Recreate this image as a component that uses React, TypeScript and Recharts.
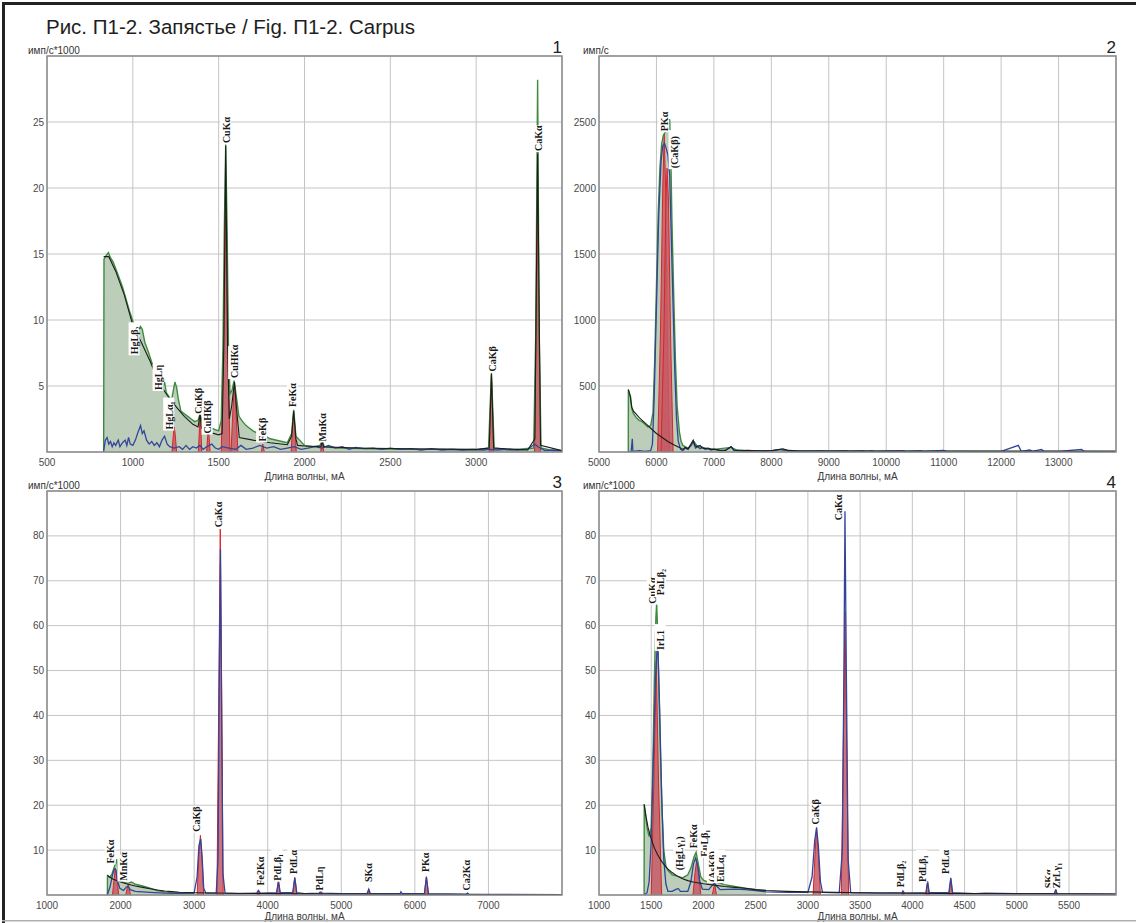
import React from 'react';
import { ComposedChart, Area, Line, XAxis, YAxis, CartesianGrid, ReferenceDot } from 'recharts';

type Pt = [number, number];
type Lbl = [string, number, number];

// ---------- Panel 1 ----------
const p1XTicks = [500, 1000, 1500, 2000, 2500, 3000];
const p1YTicks = [5, 10, 15, 20, 25];
const p1Green: Pt[] = [[830,0],[832,14.6],[845,14.9],[858,15.1],[870,14.7],[885,14.4],[900,13.9],[920,13.2],[940,12.5],[960,11.6],[980,10.7],[1000,9.9],[1015,9.3],[1030,9.0],[1045,9.5],[1055,9.3],[1070,8.3],[1090,7.6],[1110,6.8],[1130,6.0],[1150,5.3],[1165,4.7],[1175,4.9],[1185,5.3],[1195,4.5],[1210,4.2],[1225,3.9],[1235,4.6],[1245,5.3],[1255,4.9],[1265,4.0],[1280,3.1],[1300,2.9],[1320,2.7],[1340,2.5],[1360,2.3],[1380,2.4],[1392,2.9],[1405,2.2],[1420,2.0],[1440,2.1],[1460,1.8],[1480,1.7],[1500,1.6],[1515,2.4],[1525,8.0],[1533,17.0],[1541,23.3],[1549,17.0],[1557,8.0],[1566,4.4],[1578,4.7],[1590,5.4],[1603,4.2],[1618,2.7],[1640,2.3],[1660,2.0],[1680,1.8],[1700,1.6],[1730,1.4],[1760,1.3],[1800,1.0],[1850,0.85],[1900,0.7],[1925,1.4],[1937,3.2],[1950,1.2],[2000,0.5],[2050,0.4],[2090,0.5],[2103,0.9],[2115,0.4],[2200,0.3],[2400,0.25],[2600,0.2],[2800,0.2],[3000,0.15],[3072,0.3],[3089,6.0],[3105,0.3],[3200,0.15],[3335,0.3],[3347,9.0],[3358,28.2],[3367,9.0],[3378,0.3],[3450,0.1],[3500,0.1]];
const p1Black: Pt[] = [[830,14.8],[860,14.8],[900,13.7],[950,11.9],[1000,9.6],[1050,8.3],[1100,6.9],[1150,5.3],[1200,4.3],[1230,3.8],[1260,3.3],[1300,2.7],[1350,2.1],[1380,1.9],[1392,2.9],[1400,1.8],[1433,1.5],[1440,1.9],[1447,1.5],[1500,1.3],[1520,1.4],[1530,8.0],[1541,23.2],[1552,8.0],[1562,2.5],[1576,3.5],[1592,5.3],[1606,3.0],[1620,1.1],[1700,0.9],[1800,0.7],[1900,0.55],[1925,1.2],[1937,3.1],[1950,1.0],[1960,0.5],[2000,0.45],[2095,0.4],[2103,0.8],[2111,0.4],[2300,0.3],[2600,0.25],[3000,0.2],[3076,0.3],[3089,5.9],[3102,0.3],[3300,0.15],[3342,1.0],[3350,12.0],[3358,22.6],[3366,12.0],[3375,0.5],[3500,0.1]];
const p1Blue: Pt[] = [[830,0.1],[840,0.9],[850,1.1],[860,0.6],[870,0.8],[880,0.4],[890,0.7],[900,0.5],[915,0.9],[925,0.4],[940,0.7],[955,0.9],[965,0.5],[975,1.1],[985,0.6],[1000,0.5],[1015,0.9],[1030,1.5],[1045,2.0],[1055,1.4],[1065,1.6],[1080,0.9],[1095,0.6],[1110,0.8],[1125,0.5],[1140,0.7],[1155,0.4],[1170,0.9],[1185,1.2],[1200,0.6],[1215,0.4],[1240,0.3],[1270,0.4],[1290,0.2],[1310,0.5],[1330,0.2],[1350,0.4],[1370,0.3],[1390,0.5],[1410,0.2],[1430,0.4],[1460,0.6],[1480,0.3],[1500,0.2],[1520,0.4],[1560,0.3],[1600,0.2],[1630,0.5],[1660,0.2],[1700,0.3],[1740,0.5],[1780,0.3],[1820,0.4],[1860,0.2],[1900,0.3],[1940,0.4],[1980,0.2],[2020,0.3],[2060,0.4],[2100,0.3],[2140,0.5],[2180,0.3],[2220,0.4],[2260,0.2],[2300,0.35],[2350,0.25],[2400,0.3],[2450,0.2],[2500,0.3],[2560,0.2],[2620,0.25],[2680,0.15],[2740,0.25],[2800,0.15],[2860,0.2],[2920,0.15],[2980,0.2],[3040,0.15],[3080,0.2],[3120,0.15],[3180,0.2],[3240,0.15],[3300,0.2],[3340,0.6],[3360,0.4],[3400,0.1],[3450,0.15],[3500,0.1]];
const p1Peaks: Pt[][] = [
  [[1228,0],[1236,1.3],[1241,1.9],[1247,1.3],[1255,0]],
  [[1382,0],[1388,1.8],[1392,2.9],[1396,1.8],[1402,0]],
  [[1430,0],[1436,1.2],[1440,1.8],[1444,1.2],[1450,0]],
  [[1515,0],[1530,9],[1541,19],[1552,9],[1566,0]],
  [[1572,0],[1583,3.2],[1592,5.2],[1601,3.2],[1612,0]],
  [[1748,0],[1757,0.6],[1766,0]],
  [[1922,0],[1930,1.8],[1937,3.0],[1944,1.8],[1952,0]],
  [[2094,0],[2103,0.8],[2112,0]],
  [[3076,0],[3083,3.5],[3089,5.8],[3095,3.5],[3102,0]],
  [[3340,0],[3350,10],[3358,19],[3366,10],[3376,0]],
];
const p1Labels: Lbl[] = [["HgLβ₂",1010,7.4],["HgLη",1150,4.7],["HgLα₁",1212,1.7],["CuKβ",1380,2.9],["CuНКβ",1436,1.4],["CuKα",1543,23.4],["CuНКα",1590,5.6],["FeKβ",1753,0.8],["FeKα",1932,3.4],["MnKα",2103,0.8],["CaKβ",3094,6.1],["CaKα",3362,22.8]];

// ---------- Panel 2 ----------
const p2XTicks = [5000, 6000, 7000, 8000, 9000, 10000, 11000, 12000, 13000];
const p2YTicks = [500, 1000, 1500, 2000, 2500];
const p2Green: Pt[] = [[5510,0],[5511,470],[5530,440],[5550,420],[5570,330],[5600,290],[5650,260],[5700,240],[5750,230],[5800,210],[5850,190],[5900,200],[5940,300],[5970,700],[6000,1250],[6030,1800],[6060,2150],[6090,2330],[6120,2400],[6150,2420],[6180,2460],[6210,2500],[6230,2520],[6250,2250],[6270,1750],[6300,1200],[6330,700],[6360,350],[6400,150],[6430,80],[6460,50],[6500,40],[6550,30],[6600,45],[6650,80],[6700,50],[6750,40],[6800,35],[6900,25],[7000,20],[7300,35],[7400,15],[7600,10],[8000,10],[8200,20],[8300,10],[9000,8],[14000,5]];
const p2Black: Pt[] = [[5510,475],[5540,430],[5570,340],[5600,310],[5640,290],[5700,260],[5800,220],[5900,180],[6000,140],[6100,110],[6200,80],[6300,55],[6400,35],[6460,20],[6500,35],[6550,25],[6600,60],[6640,90],[6670,50],[6700,40],[6760,50],[6800,30],[6850,25],[6900,30],[6950,20],[7000,22],[7100,15],[7200,12],[7300,40],[7350,15],[7450,10],[7600,12],[7800,8],[8000,10],[8200,25],[8300,12],[8500,8],[9000,8],[10000,5],[11000,6],[12000,5],[14000,5]];
const p2Blue: Pt[] = [[5510,0],[5560,5],[5580,100],[5590,5],[5700,10],[5800,5],[5900,10],[5930,60],[5960,400],[6000,1100],[6040,1800],[6080,2200],[6110,2320],[6140,2340],[6170,2300],[6200,2250],[6230,2100],[6260,1600],[6290,1100],[6320,600],[6350,250],[6380,80],[6420,20],[6460,10],[6500,30],[6550,20],[6600,50],[6640,80],[6680,30],[6720,40],[6760,25],[6800,35],[6850,20],[6900,25],[6950,15],[7000,20],[7100,10],[7200,12],[7300,40],[7350,10],[7500,8],[7700,10],[7850,6],[8000,8],[8150,20],[8250,10],[8400,5],[8900,8],[9000,5],[9300,10],[9350,4],[9600,10],[9650,4],[9750,10],[9800,4],[10000,8],[10300,10],[10350,4],[10600,10],[10650,4],[11000,12],[11050,4],[12000,5],[12300,50],[12350,5],[12500,15],[12550,5],[12700,20],[12750,5],[13000,4],[13400,20],[13450,4],[14000,4]];
const p2Peaks: Pt[][] = [
  [[6020,0],[6070,900],[6110,2000],[6135,2410],[6160,2000],[6190,900],[6230,0]],
  [[6080,0],[6130,900],[6165,1900],[6185,2150],[6210,1900],[6245,900],[6290,0]],
];
const p2Labels: Lbl[] = [["PKα",6135,2430],["(CaKβ)",6315,2150]];

// ---------- Panel 3 ----------
const p3XTicks = [1000, 2000, 3000, 4000, 5000, 6000, 7000];
const p3YTicks = [10, 20, 30, 40, 50, 60, 70, 80];
const p3Green: Pt[] = [[1820,0],[1822,4.2],[1850,4.0],[1880,4.5],[1900,5.5],[1920,6.5],[1937,7.2],[1950,8.0],[1962,6.0],[1975,3.8],[2000,3.2],[2050,2.8],[2100,2.6],[2150,2.9],[2200,2.4],[2300,2.0],[2400,1.5],[2500,1.0],[2600,0.7],[2700,0.5],[2800,0.45],[2900,0.4],[3000,0.4]];
const p3Black: Pt[] = [[1820,4.5],[1850,4.0],[1900,3.5],[2000,2.9],[2100,2.4],[2200,2.0],[2300,1.7],[2400,1.4],[2500,1.1],[2600,0.9],[2700,0.75],[2800,0.6],[3000,0.5],[3500,0.4],[4000,0.3],[5000,0.2],[6000,0.15],[7000,0.1],[8000,0.1]];
const p3Blue: Pt[] = [[1820,0],[1830,0.5],[1860,2],[1890,4.5],[1915,5.8],[1937,5.5],[1960,3],[1990,1.5],[2040,1],[2080,1.8],[2103,2.0],[2130,1.2],[2200,0.8],[2400,0.6],[2600,0.4],[2800,0.35],[3000,0.5],[3040,4],[3065,11],[3089,12.5],[3110,8],[3130,1.5],[3160,0.4],[3300,0.4],[3325,8],[3340,45],[3358,77],[3372,45],[3390,5],[3420,0.4],[3600,0.3],[3850,0.4],[3874,1.0],[3900,0.4],[4120,0.5],[4146,3.0],[4170,0.5],[4340,0.5],[4368,3.8],[4395,0.5],[4500,0.3],[4700,0.4],[4720,0.9],[4740,0.4],[5000,0.3],[5350,0.3],[5373,1.3],[5395,0.3],[5800,0.3],[5810,0.7],[5830,0.3],[6130,0.3],[6157,4.0],[6185,0.3],[6700,0.2],[6716,0.4],[6730,0.2],[8000,0.1]];
const p3Peaks: Pt[][] = [
  [[1890,0],[1915,4],[1930,6.0],[1950,4],[1975,0]],
  [[2070,0],[2090,1.5],[2103,2.2],[2116,1.5],[2135,0]],
  [[3040,0],[3065,9],[3085,13.3],[3105,9],[3130,0]],
  [[3310,0],[3335,45],[3355,81.5],[3372,50],[3395,0]],
  [[3855,0],[3874,1.0],[3893,0]],
  [[4120,0],[4135,2],[4146,3.2],[4157,2],[4172,0]],
  [[4340,0],[4356,2.5],[4368,3.9],[4380,2.5],[4396,0]],
  [[4705,0],[4720,0.8],[4735,0]],
  [[5355,0],[5373,1.3],[5391,0]],
  [[6130,0],[6145,2.5],[6157,4.1],[6169,2.5],[6185,0]],
];
const p3Labels: Lbl[] = [["FeKα",1866,7],["MnKα",2039,3.2],["CaKβ",3028,14.1],["CaKα",3334,81.9],["Fe2Kα",3903,2.1],["PdLβ₁",4130,3.2],["PdLα",4348,4.7],["PdLη",4709,1],["SKα",5367,2.9],["PKα",6143,5.1],["Ca2Kα",6702,1]];

// ---------- Panel 4 ----------
const p4XTicks = [1000, 1500, 2000, 2500, 3000, 3500, 4000, 4500, 5000, 5500];
const p4YTicks = [10, 20, 30, 40, 50, 60, 70, 80];
const p4Green: Pt[] = [[1432,0],[1433,20.2],[1445,18],[1460,15],[1480,13],[1500,15],[1515,28],[1530,48],[1545,62],[1552,65],[1560,60],[1575,45],[1590,30],[1605,18],[1620,10],[1640,6.5],[1660,5.5],[1700,4.5],[1750,4.2],[1800,3.8],[1850,4.5],[1880,6],[1910,8.5],[1930,9.5],[1950,7],[1975,4],[2000,3.3],[2050,2.8],[2090,3.3],[2110,3.6],[2140,2.8],[2200,2.3],[2300,1.9],[2400,1.5],[2500,1.2],[2600,1.0]];
const p4Black: Pt[] = [[1432,20.2],[1450,17.5],[1470,15],[1500,12.5],[1530,10.5],[1560,9],[1600,7.5],[1650,6],[1700,5],[1750,4.2],[1800,3.6],[1850,3.2],[1900,2.9],[2000,2.5],[2100,2.2],[2200,1.9],[2300,1.7],[2400,1.5],[2500,1.2],[2600,1.0],[2800,0.8],[3000,0.7],[3500,0.5],[4000,0.4],[4500,0.3],[5000,0.25],[5950,0.2]];
const p4Blue: Pt[] = [[1432,0],[1460,0.5],[1480,3],[1500,12],[1520,30],[1540,48],[1555,54.5],[1565,54],[1580,42],[1600,22],[1620,8],[1640,2.5],[1660,0.8],[1700,0.8],[1740,1.3],[1760,1.4],[1780,0.8],[1850,0.8],[1880,3],[1905,7],[1925,8.2],[1945,6.5],[1965,3],[1990,1.3],[2050,1.2],[2090,2.3],[2105,2.6],[2125,2],[2160,1.2],[2300,1.3],[2400,1.2],[2500,1.0],[2600,0.7],[2800,0.6],[3000,0.6],[3040,4],[3065,12],[3083,15],[3100,11],[3120,3],[3140,0.6],[3300,0.5],[3330,10],[3345,50],[3355,85.5],[3368,50],[3385,8],[3410,0.5],[3700,0.4],[3900,0.5],[3910,0.9],[3925,0.4],[4130,0.5],[4146,3.0],[4162,0.5],[4350,0.5],[4368,3.8],[4386,0.5],[4600,0.3],[4700,0.4],[5000,0.3],[5360,0.3],[5373,1.3],[5386,0.3],[5950,0.2]];
const p4Peaks: Pt[][] = [
  [[1500,0],[1525,25],[1548,52],[1570,25],[1600,0]],
  [[1900,0],[1920,5],[1937,8],[1955,5],[1975,0]],
  [[2085,0],[2100,1.8],[2110,2.2],[2125,0]],
  [[3050,0],[3068,9],[3083,15],[3100,9],[3120,0]],
  [[3320,0],[3340,35],[3355,63],[3370,35],[3390,0]],
  [[3900,0],[3910,0.8],[3920,0]],
  [[4130,0],[4146,3.0],[4162,0]],
  [[4350,0],[4368,3.6],[4386,0]],
  [[5360,0],[5373,1.2],[5386,0]],
];
const p4Labels: Lbl[] = [["CuKα",1515,64.9],["PaLβ₂",1592,66.8],["IrL1",1590,54.6],["(HgLγ₁)",1770,5.5],["FeKα",1905,10.4],["EuLβ₁",2009,8.5],["(AsKβ)",2090,2.9],["EuLα₁",2160,2.9],["CaKβ",3075,15.7],["CaKα",3290,83.5],["PdLβ₂",3883,1.7],["PdLβ₁",4094,2.9],["PdLα",4316,4.7],["SKα",5305,1.5],["ZrLγ₁",5378,1.5]];

const xy = (a: Pt[]) => a.map(([x, y]) => ({ x, y }));

const W = 1136;
const H = 923;
const SANS = "'Liberation Sans', Arial, sans-serif";
const SERIF = "'Liberation Serif', 'Times New Roman', serif";

const PeakLabel = (props: any) => {
  const { cx, cy, text } = props;
  if (cx == null || cy == null || isNaN(cx) || isNaN(cy)) return null;
  const w = text.length * 6.2 + 2;
  return (
    <g transform={`translate(${cx},${cy}) rotate(-90)`}>
      <rect x={-1} y={-6} width={w} height={11} fill="#ffffff" />
      <text x={0} y={3.5} fontSize={10} fontWeight="bold" fontFamily={SERIF} fill="#1a1a1a">{text}</text>
    </g>
  );
};

type PanelProps = {
  plot: { left: number; right: number; top: number; bottom: number };
  xDomain: [number, number];
  yDomain: [number, number];
  xTicks: number[];
  yTicks: number[];
  green: Pt[];
  black: Pt[];
  blue: Pt[];
  peaks: Pt[][];
  labels: Lbl[];
  axisH: number;
};

function Panel({ plot, xDomain, yDomain, xTicks, yTicks, green, black, blue, peaks, labels, axisH }: PanelProps) {
  const yW = 40;
  const margin = { top: plot.top, left: plot.left - yW, right: W - plot.right, bottom: H - plot.bottom - axisH };
  const g = xy(green);
  return (
    <div style={{ position: 'absolute', left: 0, top: 0 }}>
      <ComposedChart width={W} height={H} margin={margin}>
        <CartesianGrid stroke="#c4c4c4" strokeWidth={1} />
        <XAxis
          type="number"
          dataKey="x"
          domain={xDomain}
          ticks={xTicks}
          interval={0}
          allowDataOverflow
          axisLine={false}
          tickLine={false}
          tickSize={0}
          tickMargin={7}
          height={axisH}
          tick={{ fontSize: 10, fill: '#4a4a4a', fontFamily: SANS }}
          label={{ value: 'Длина волны, мА', position: 'insideBottom', offset: 2, fontSize: 10, fill: '#3a3a3a', fontFamily: SANS }}
        />
        <YAxis
          type="number"
          domain={yDomain}
          ticks={yTicks}
          interval={0}
          allowDataOverflow
          axisLine={false}
          tickLine={false}
          tickSize={0}
          tickMargin={3}
          width={yW}
          tick={{ fontSize: 10, fill: '#4a4a4a', fontFamily: SANS }}
        />
        <Area data={g} dataKey="y" type="linear" fill="#bccdb9" fillOpacity={1} stroke="none" dot={false} activeDot={false} isAnimationActive={false} />
        {peaks.map((pk, i) => (
          <Area key={'pk' + i} data={xy(pk)} dataKey="y" type="linear" fill="#c65a64" fillOpacity={0.85} stroke="#d8242a" strokeWidth={1} dot={false} activeDot={false} isAnimationActive={false} />
        ))}
        <Line data={g} dataKey="y" type="linear" stroke="#3d8c3d" strokeWidth={1.4} dot={false} activeDot={false} isAnimationActive={false} />
        <Line data={xy(blue)} dataKey="y" type="linear" stroke="#34449a" strokeWidth={1.3} dot={false} activeDot={false} isAnimationActive={false} />
        <Line data={xy(black)} dataKey="y" type="linear" stroke="#1c1c1c" strokeWidth={1.1} dot={false} activeDot={false} isAnimationActive={false} />
        {labels.map((l, i) => (
          <ReferenceDot key={'lb' + i} x={l[1]} y={l[2]} r={0} ifOverflow="visible" shape={(p: any) => <PeakLabel {...p} text={l[0]} />} />
        ))}
      </ComposedChart>
    </div>
  );
}

const P1 = { left: 47, right: 562, top: 56, bottom: 452 };
const P2 = { left: 599, right: 1116, top: 56, bottom: 452 };
const P3 = { left: 47, right: 562, top: 491, bottom: 895 };
const P4 = { left: 599, right: 1116, top: 491, bottom: 895 };

export default function App() {
  const frames = [P1, P2, P3, P4];
  return (
    <div style={{ position: 'absolute', left: 0, top: 0, width: W, height: H, background: '#ffffff', overflow: 'hidden' }}>
      <Panel plot={P1} xDomain={[500, 3500]} yDomain={[0, 30]} xTicks={p1XTicks} yTicks={p1YTicks} green={p1Green} black={p1Black} blue={p1Blue} peaks={p1Peaks} labels={p1Labels} axisH={30} />
      <Panel plot={P2} xDomain={[5000, 14000]} yDomain={[0, 3000]} xTicks={p2XTicks} yTicks={p2YTicks} green={p2Green} black={p2Black} blue={p2Blue} peaks={p2Peaks} labels={p2Labels} axisH={30} />
      <Panel plot={P3} xDomain={[1000, 8000]} yDomain={[0, 90]} xTicks={p3XTicks} yTicks={p3YTicks} green={p3Green} black={p3Black} blue={p3Blue} peaks={p3Peaks} labels={p3Labels} axisH={27} />
      <Panel plot={P4} xDomain={[1000, 5950]} yDomain={[0, 90]} xTicks={p4XTicks} yTicks={p4YTicks} green={p4Green} black={p4Black} blue={p4Blue} peaks={p4Peaks} labels={p4Labels} axisH={27} />
      <svg width={W} height={H} style={{ position: 'absolute', left: 0, top: 0, pointerEvents: 'none' }}>
        {frames.map((f, i) => (
          <rect key={i} x={f.left} y={f.top} width={f.right - f.left} height={f.bottom - f.top} fill="none" stroke="#8a8a8a" strokeWidth={1.5} />
        ))}
        <rect x={2} y={2} width={W - 2} height={3} fill="#222222" />
        <rect x={2} y={2} width={3} height={H - 2} fill="#222222" />
        <rect x={2} y={H - 3} width={W - 2} height={1.5} fill="#b0b0b0" />
        <text x={46} y={34} fontSize={20.5} fontFamily={SANS} fill="#1e1e1e">Рис. П1-2. Запястье / Fig. П1-2. Carpus</text>
        <text x={28} y={54} fontSize={10} fontFamily={SANS} fill="#333">имп/с*1000</text>
        <text x={583} y={54} fontSize={10} fontFamily={SANS} fill="#333">имп/с</text>
        <text x={28} y={489} fontSize={10} fontFamily={SANS} fill="#333">имп/с*1000</text>
        <text x={583} y={489} fontSize={10} fontFamily={SANS} fill="#333">имп/с*1000</text>
        <text x={562} y={53} fontSize={17} fontFamily={SANS} fill="#222" textAnchor="end">1</text>
        <text x={1116} y={53} fontSize={17} fontFamily={SANS} fill="#222" textAnchor="end">2</text>
        <text x={562} y={488} fontSize={17} fontFamily={SANS} fill="#222" textAnchor="end">3</text>
        <text x={1116} y={488} fontSize={17} fontFamily={SANS} fill="#222" textAnchor="end">4</text>
      </svg>
    </div>
  );
}
